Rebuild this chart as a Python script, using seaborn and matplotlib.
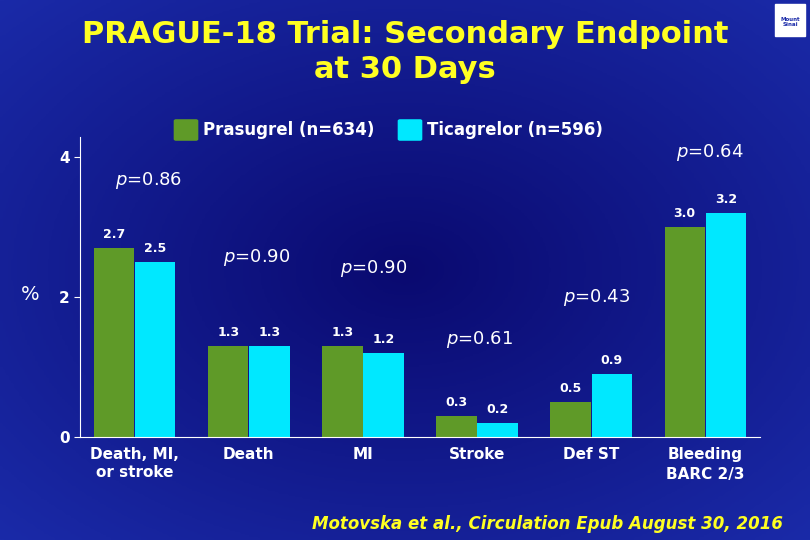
import numpy as np
import pandas as pd
import matplotlib
matplotlib.use("Agg")
import matplotlib.pyplot as plt
import seaborn as sns

categories = ["Death, MI,\nor stroke", "Death", "MI", "Stroke", "Def ST", "Bleeding"]
prasugrel = [2.7, 1.3, 1.3, 0.3, 0.5, 3.0]
ticagrelor = [2.5, 1.3, 1.2, 0.2, 0.9, 3.2]
series_names = ["Prasugrel (n=634)", "Ticagrelor (n=596)"]
p_labels = ["0.86", "0.90", "0.90", "0.61", "0.43", "0.64"]
# label positions in data coords (x, y)
p_pos = [(0.12, 3.66), (1.07, 2.56), (2.09, 2.41), (3.02, 1.39), (4.05, 2.00), (5.04, 4.06)]

df = pd.DataFrame({
    "cat": categories * 2,
    "val": prasugrel + ticagrelor,
    "arm": [series_names[0]] * 6 + [series_names[1]] * 6,
})

sns.set_style("white")
fig = plt.figure(figsize=(8.1, 5.4), dpi=100)

# background gradient
bg = fig.add_axes([0, 0, 1, 1])
yy, xx = np.mgrid[-1:1:200j, -1:1:300j]
r = np.sqrt(xx**2 + yy**2)
bg.imshow(r, cmap=matplotlib.colors.LinearSegmentedColormap.from_list(
    "b", ["#0a0a70", "#1a2aa8"]), aspect="auto", extent=[0, 1, 0, 1])
bg.axis("off")

ax = fig.add_axes([80 / 810, 103 / 540, 680 / 810, 300 / 540])
colors = ["#5f9a28", "#00e8ff"]
sns.barplot(data=df, x="cat", y="val", hue="arm", palette=colors, ax=ax,
            width=0.72, gap=0.02, edgecolor="none", legend=False, saturation=1)
ax.set_facecolor("none")
ax.set_ylim(0, 300 / 70)
ax.set_xlim(-0.48, 5.48)
ax.set_yticks([0, 2, 4])
ax.set_xlabel("")
ax.set_ylabel("")
for s in ["top", "right"]:
    ax.spines[s].set_visible(False)
for s in ["left", "bottom"]:
    ax.spines[s].set_color("white")
ax.tick_params(colors="white", labelsize=11, length=4, left=True, bottom=False)
for t in ax.get_xticklabels() + ax.get_yticklabels():
    t.set_fontweight("bold")
    t.set_color("white")

for cont in ax.containers:
    for bar in cont:
        h = bar.get_height()
        ax.text(bar.get_x() + bar.get_width() / 2, h + 0.1, f"{h:.1f}",
                ha="center", va="bottom", color="white", fontsize=9, fontweight="bold")

for (x, y), lab in zip(p_pos, p_labels):
    ax.text(x, y, r"$p$=" + lab, color="white", fontsize=13, ha="center", va="center")

ax.text(5.0, -0.53, "BARC 2/3", color="white", fontsize=11, fontweight="bold",
        ha="center", va="center")

fig.text(30 / 810, 1 - 295 / 540, "%", color="white", fontsize=14, ha="center", va="center")
fig.text(405 / 810, 1 - 52 / 540, "PRAGUE-18 Trial: Secondary Endpoint\nat 30 Days",
         color="#ffff22", fontsize=22, fontweight="bold", ha="center", va="center",
         linespacing=1.3)

# legend
for lx, name, c in [(186, series_names[0], colors[0]), (410, series_names[1], colors[1])]:
    fig.patches.append(matplotlib.patches.FancyBboxPatch(
        ((lx - 10) / 810, 1 - 139 / 540), 20 / 810, 18 / 540,
        boxstyle="round,pad=0.002", color=c, transform=fig.transFigure))
    fig.text((lx + 17) / 810, 1 - 130 / 540, name, color="white", fontsize=12,
             fontweight="bold", va="center")

fig.text(548 / 810, 1 - 524 / 540, "Motovska et al., Circulation Epub August 30, 2016",
         color="#ffff22", fontsize=12, fontweight="bold", style="italic",
         ha="center", va="center")

fig.patches.append(matplotlib.patches.Rectangle(
    (775 / 810, 1 - 36 / 540), 30 / 810, 32 / 540, color="white", transform=fig.transFigure))
fig.text(790 / 810, 1 - 22 / 540, "Mount\nSinai", color="#1a2aa8", fontsize=4,
         ha="center", va="center", fontweight="bold")

fig.savefig("out.png", dpi=100)
